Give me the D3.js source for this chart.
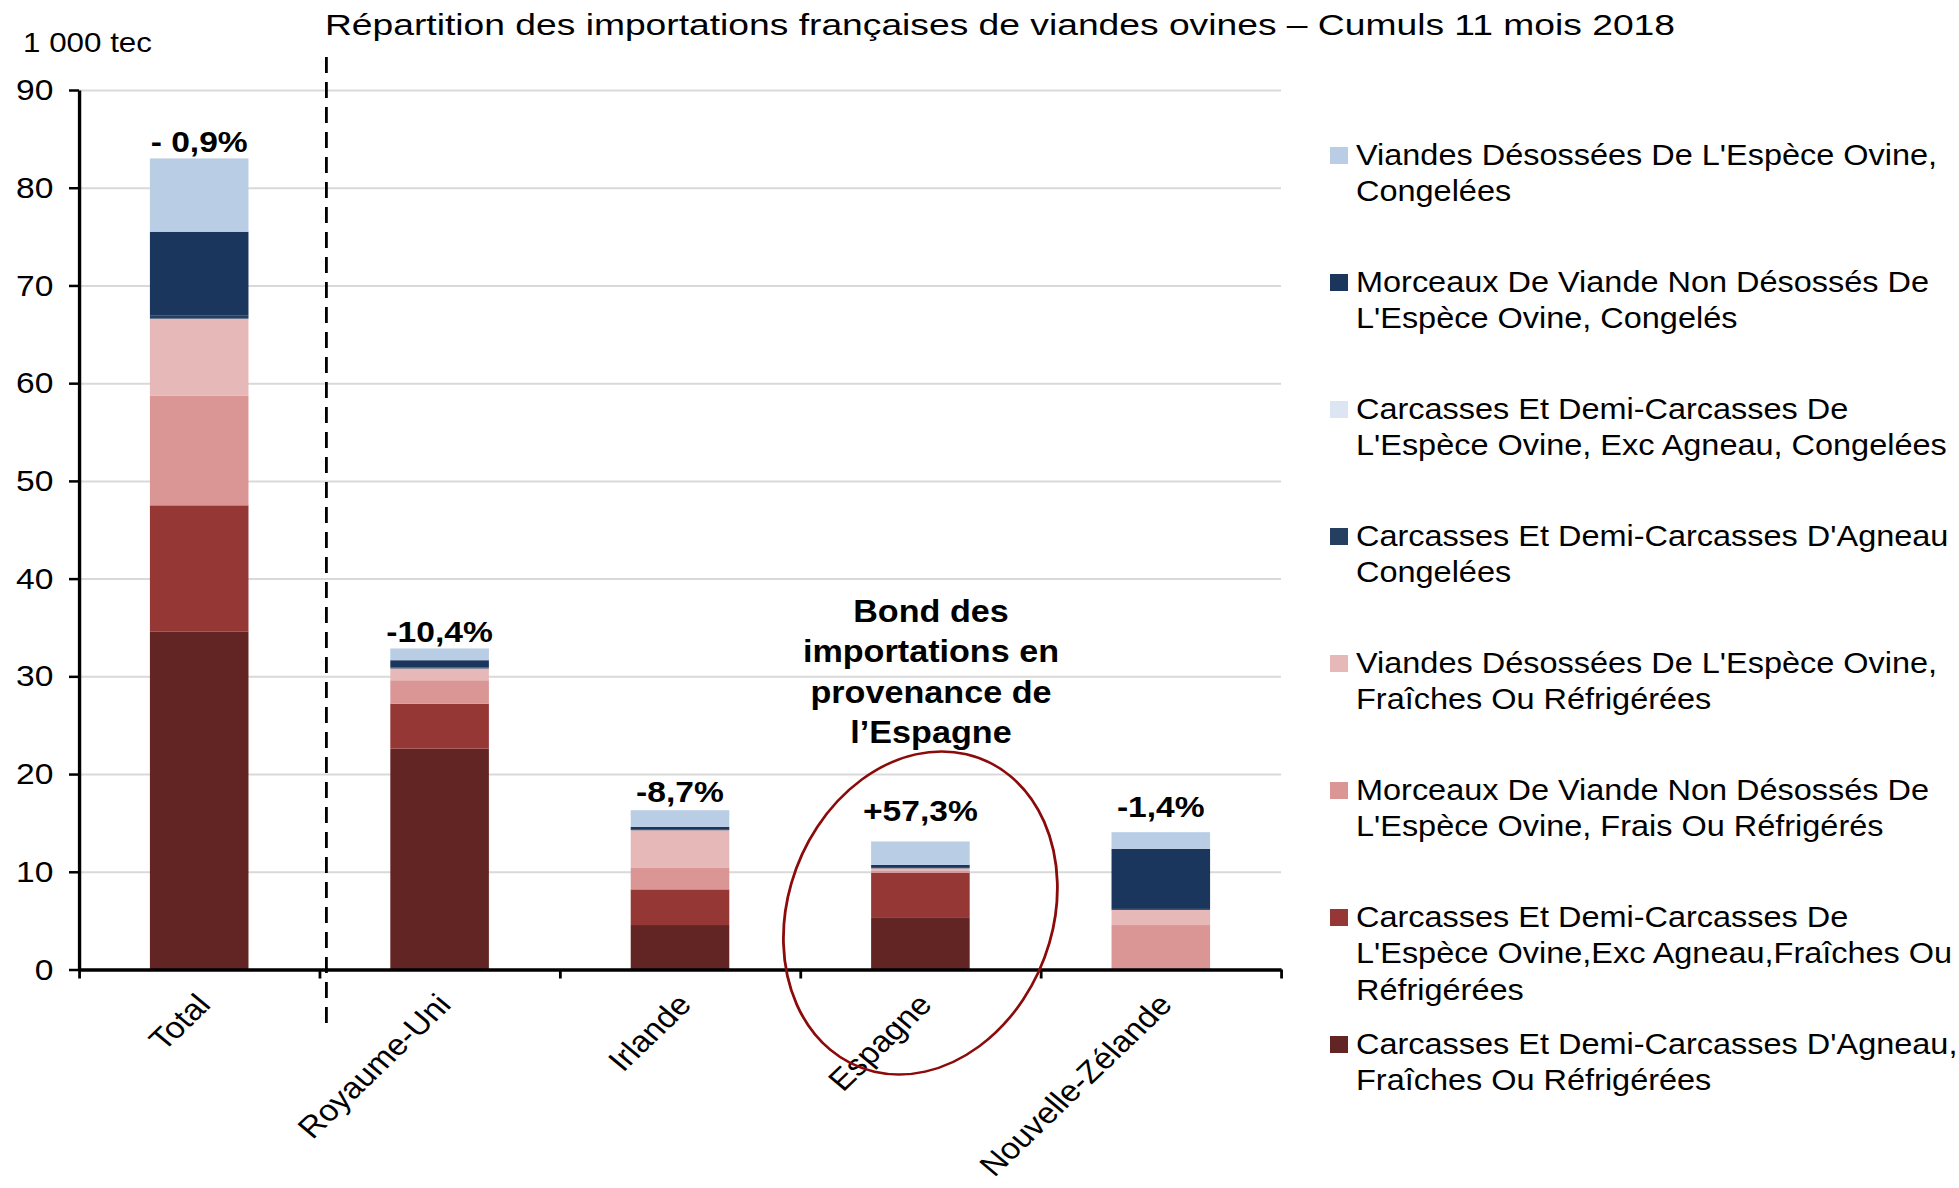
<!DOCTYPE html>
<html>
<head>
<meta charset="utf-8">
<script src="https://cdn.jsdelivr.net/npm/d3@7"></script>
<style>
  body { margin: 0; background: #fff; }
  svg { display: block; }
  text { font-family: Arial, "Liberation Sans", sans-serif; fill: #000; }
</style>
</head>
<body>
<svg id="chart"></svg>
<script>
// ---- data (1 000 tec, cumul 11 mois 2018) ----
const countries = ['Total', 'Royaume-Uni', 'Irlande', 'Espagne', 'Nouvelle-Zélande'];
const changeLabels = ['- 0,9%', '-10,4%', '-8,7%', '+57,3%', '-1,4%'];

// series, from bottom of the stack to the top
const agneauFrais      = [34.6, 22.6, 4.55, 5.35, 0];
const ovineExcFrais    = [12.9, 4.6, 3.65, 4.55, 0];
const morceauxFrais    = [11.2, 2.4, 2.25, 0.25, 4.55];
const viandesFraiches  = [7.9, 1.2, 3.8, 0.2, 1.55];
const agneauCongele    = [0.3, 0.1, 0.05, 0.05, 0.1];
const ovineExcCongele  = [0, 0, 0, 0, 0];
const morceauxCongeles = [8.6, 0.75, 0.3, 0.3, 6.15];
const viandesCongelees = [7.5, 1.2, 1.7, 2.4, 1.7];

const seriesKeys = ['agneauFrais', 'ovineExcFrais', 'morceauxFrais', 'viandesFraiches',
  'agneauCongele', 'ovineExcCongele', 'morceauxCongeles', 'viandesCongelees'];
const seriesValues = [agneauFrais, ovineExcFrais, morceauxFrais, viandesFraiches,
  agneauCongele, ovineExcCongele, morceauxCongeles, viandesCongelees];
const seriesLabels = [
  ["Carcasses Et Demi-Carcasses D'Agneau,", 'Fraîches Ou Réfrigérées'],
  ['Carcasses Et Demi-Carcasses De', "L'Espèce Ovine,Exc Agneau,Fraîches Ou", 'Réfrigérées'],
  ['Morceaux De Viande Non Désossés De', "L'Espèce Ovine, Frais Ou Réfrigérés"],
  ["Viandes Désossées De L'Espèce Ovine,", 'Fraîches Ou Réfrigérées'],
  ["Carcasses Et Demi-Carcasses D'Agneau", 'Congelées'],
  ['Carcasses Et Demi-Carcasses De', "L'Espèce Ovine, Exc Agneau, Congelées"],
  ['Morceaux De Viande Non Désossés De', "L'Espèce Ovine, Congelés"],
  ["Viandes Désossées De L'Espèce Ovine,", 'Congelées']
];
const seriesColors = ['#632523', '#953735', '#d99694', '#e6b9b8',
  '#243f60', '#dce6f2', '#1a365d', '#b9cde5'];

const yTicks = [0, 10, 20, 30, 40, 50, 60, 70, 80, 90];
const chartTitle = 'Répartition des importations françaises de viandes ovines – Cumuls 11 mois 2018';
const unitLabel = '1 000 tec';
const noteLines = ['Bond des', 'importations en', 'provenance de', 'l’Espagne'];

// ---- layout ----
// the source picture is stretched horizontally, so draw in a narrower space and stretch it
const SX = 1.12;
const fullW = 1959, fullH = 1188;
const W = fullW / SX;
const X = v => v / SX; // real pixel -> drawing units

const svg = d3.select('#chart')
  .attr('width', fullW)
  .attr('height', fullH)
  .attr('viewBox', `0 0 ${W} ${fullH}`)
  .attr('preserveAspectRatio', 'none');

const plotLeft = X(79), plotRight = X(1281);
const plotTop = 90, plotBottom = 969.5;

const table = countries.map((c, i) => {
  const row = { country: c };
  seriesKeys.forEach((k, j) => { row[k] = seriesValues[j][i]; });
  return row;
});
const stacked = d3.stack().keys(seriesKeys)(table);

const xScale = d3.scaleBand()
  .domain(countries)
  .range([plotLeft, plotRight])
  .paddingInner(0.59)
  .paddingOuter(0.295);

const yScale = d3.scaleLinear()
  .domain([0, 90])
  .range([plotBottom, plotTop]);

const colorScale = d3.scaleOrdinal().domain(seriesKeys).range(seriesColors);

// gridlines
svg.append('g')
  .attr('class', 'grid')
  .attr('transform', `translate(${plotLeft},0)`)
  .call(d3.axisLeft(yScale).tickValues(yTicks.slice(1)).tickSize(-(plotRight - plotLeft)).tickFormat(''))
  .call(g => g.select('.domain').remove())
  .call(g => g.selectAll('line').attr('stroke', '#d9d9d9').attr('stroke-width', 2));

// bars
svg.append('g')
  .selectAll('g')
  .data(stacked)
  .join('g')
  .attr('fill', d => colorScale(d.key))
  .selectAll('rect')
  .data(d => d)
  .join('rect')
  .attr('x', d => xScale(d.data.country))
  .attr('y', d => yScale(d[1]))
  .attr('width', xScale.bandwidth())
  .attr('height', d => yScale(d[0]) - yScale(d[1]));

// y axis
svg.append('g')
  .attr('class', 'y-axis')
  .attr('transform', `translate(${plotLeft},0)`)
  .call(d3.axisLeft(yScale).tickValues(yTicks).tickSize(X(10)).tickPadding(14).tickSizeOuter(0))
  .call(g => g.select('.domain').attr('stroke-width', 3))
  .call(g => g.selectAll('line').attr('stroke-width', 2.5))
  .call(g => g.selectAll('text').attr('font-size', 30).attr('font-family', 'Arial, "Liberation Sans", sans-serif'));

// x axis: ticks on category boundaries
const boundary = d3.scaleLinear().domain([0, countries.length]).range([plotLeft, plotRight]);
svg.append('g')
  .attr('class', 'x-axis')
  .attr('transform', `translate(0,${plotBottom})`)
  .call(d3.axisBottom(boundary).ticks(countries.length).tickSize(9).tickSizeOuter(0).tickFormat(''))
  .call(g => g.select('.domain').attr('stroke-width', 3.5))
  .call(g => g.selectAll('line').attr('stroke-width', 2.5));

// category labels
svg.append('g')
  .selectAll('text')
  .data(countries)
  .join('text')
  .attr('transform', d => `translate(${xScale(d) + xScale.bandwidth() / 2 - 4},${plotBottom + 22}) rotate(-47)`)
  .attr('text-anchor', 'end')
  .attr('dy', '0.71em')
  .attr('font-size', 30)
  .text(d => d);

// dashed separator between Total and the countries
svg.append('line')
  .attr('x1', boundary(1) + X(7)).attr('x2', boundary(1) + X(7))
  .attr('y1', 57).attr('y2', 1025)
  .attr('stroke', '#000')
  .attr('stroke-width', 2.5)
  .attr('stroke-dasharray', '16,9');

// change labels on top of bars
const labelLift = [6, 6, 8, 20, 15];
const totals = countries.map((c, i) => d3.sum(seriesValues, s => s[i]));
svg.append('g')
  .selectAll('text')
  .data(countries)
  .join('text')
  .attr('x', d => xScale(d) + xScale.bandwidth() / 2)
  .attr('y', (d, i) => yScale(totals[i]) - labelLift[i])
  .attr('text-anchor', 'middle')
  .attr('font-size', 30)
  .attr('font-weight', 'bold')
  .text((d, i) => changeLabels[i]);

// title and unit
svg.append('text')
  .attr('x', X(325)).attr('y', 35)
  .attr('font-size', 29)
  .attr('textLength', X(1350))
  .attr('lengthAdjust', 'spacingAndGlyphs')
  .text(chartTitle);

svg.append('text')
  .attr('x', X(23)).attr('y', 52)
  .attr('font-size', 28)
  .text(unitLabel);

// annotation for Spain
const spainX = xScale('Espagne') + xScale.bandwidth() / 2;
svg.append('text')
  .attr('x', X(931)).attr('y', 622)
  .attr('text-anchor', 'middle')
  .attr('font-size', 30.5)
  .attr('font-weight', 'bold')
  .selectAll('tspan')
  .data(noteLines)
  .join('tspan')
  .attr('x', X(931))
  .attr('dy', (d, i) => i === 0 ? 0 : 40.5)
  .text(d => d);

svg.append('ellipse')
  .attr('transform', `translate(${spainX},913) rotate(14.5)`)
  .attr('rx', 119)
  .attr('ry', 164)
  .attr('fill', 'none')
  .attr('stroke', '#8b0a0a')
  .attr('stroke-width', 2.5);

// legend (top item = top of the stack)
const legendOrder = d3.range(seriesKeys.length).reverse();
const legend = svg.append('g').attr('class', 'legend');
const legendItems = legend.selectAll('g')
  .data(legendOrder)
  .join('g')
  .attr('transform', (d, i) => `translate(0,${165 + i * 127})`);

legendItems.append('rect')
  .attr('x', X(1330))
  .attr('y', -18)
  .attr('width', X(18))
  .attr('height', 17)
  .attr('fill', d => seriesColors[d]);

legendItems.append('text')
  .attr('font-size', 29)
  .selectAll('tspan')
  .data(d => seriesLabels[d])
  .join('tspan')
  .attr('x', X(1356))
  .attr('dy', (d, i) => i === 0 ? 0 : 36.5)
  .text(d => d);
</script>
</body>
</html>
